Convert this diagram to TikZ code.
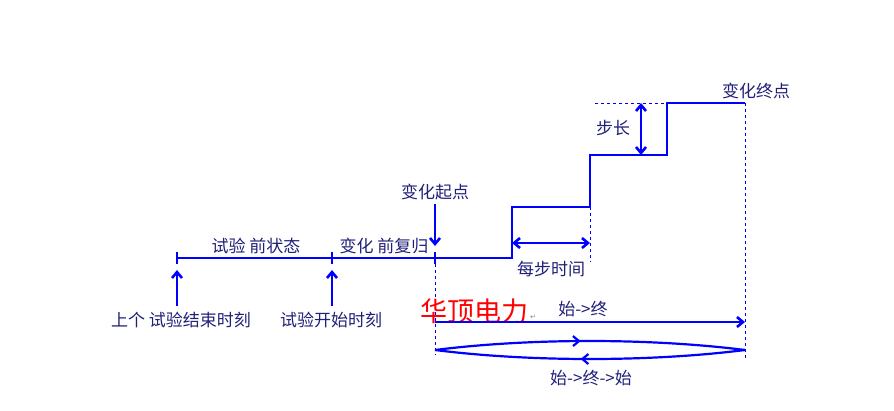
\documentclass[tikz,border=0pt]{standalone}
\usepackage{fontspec}
\setmainfont{Noto Sans CJK SC}
\newfontfamily\symfont{DejaVu Sans}
\usetikzlibrary{arrows.meta,decorations.markings}
\definecolor{ln}{RGB}{0,0,255}
\definecolor{tx}{RGB}{32,32,120}
\tikzset{
  lbl/.style={text=tx,font=\fontsize{17}{17}\selectfont,inner sep=0pt},
  thick line/.style={draw=ln,line width=2.6pt},
  dim/.style={draw=ln,line width=2.6pt,{Straight Barb[length=6pt,width=10pt]}-{Straight Barb[length=6pt,width=10pt]}},
  onearrow/.style={draw=ln,line width=2.6pt,-{Straight Barb[length=6pt,width=10pt]}},
  guide/.style={draw=ln,line width=0.8pt,dash pattern=on 3pt off 3pt},
}
\newcommand{\gap}{\hspace{4pt}}
\begin{document}
\begin{tikzpicture}[x=1pt,y=-1pt]
\useasboundingbox (0,0) rectangle (894,410);
% key coordinates
\coordinate (a) at (177,258);
\coordinate (b) at (332,258);
\coordinate (c) at (435,258);
\coordinate (s0) at (512,258);
\coordinate (s1) at (512,207);
\coordinate (s2) at (590,207);
\coordinate (s3) at (590,155);
\coordinate (s4) at (667,155);
\coordinate (s5) at (667,103);
\coordinate (e) at (745,103);
% baseline and staircase
\draw[thick line,line join=miter] (a) -- (s0) -- (s1) -- (s2) -- (s3) -- (s4) -- (s5) -- (e);
% ticks
\foreach \p in {a,b,c} \draw[draw=ln,line width=2pt] ([yshift=-6pt]\p) -- ([yshift=6pt]\p);
% guides
\coordinate (cb) at (435,355);
\coordinate (eb) at (745,360);
\coordinate (s2b) at (590,262);
\coordinate (hl) at (595,103);
\draw[guide] (c) -- (cb);
\draw[guide] (e) -- (eb);
\draw[guide] (s2) -- (s2b);
\draw[guide] (hl) -- (s5);
% step time dimension
\coordinate (d1) at (512,243);
\coordinate (d2) at (590,243);
\draw[dim] (d1) -- (d2);
\node[lbl] (mbsj) at (551,269) {每步时间};
% step size dimension
\coordinate (v1) at (641,103);
\coordinate (v2) at (641,155);
\draw[dim] (v1) -- (v2);
\node[lbl] (bc) at (613,128) {步长};
% labels
\node[lbl] (zd) at (756,91) {变化终点};
\node[lbl] (qd) at (435,192) {变化起点};
\coordinate (qa) at (435,246);
\draw[onearrow] (qd.south) ++(0,4) coordinate (qs) -- (qa);
\node[lbl] (sq) at (256,246) {试验\gap 前状态};
\node[lbl] (bh) at (384,246) {变化\gap 前复归};
\node[lbl] (sj) at (181,320) {上个\gap 试验结束时刻};
\node[lbl] (ks) at (331,320) {试验开始时刻};
\coordinate (au) at (177,270);
\coordinate (bu) at (332,270);
\draw[onearrow] (177,306) -- (au);
\draw[onearrow] (332,306) -- (bu);
% watermark
\node[text=red,font=\fontsize{27}{27}\selectfont,inner sep=0pt] (hd) at (474,311) {华顶电力};
\node[text=gray,font=\symfont\fontsize{7}{7}\selectfont,inner sep=0pt] (pm) at (533,317) {↵};
% start->end
\node[lbl] (se) at (583,309) {始->终};
\coordinate (r1) at (435,322);
\coordinate (r2) at (745,322);
\draw[onearrow] (r1) -- (r2);
% lens
\coordinate (L) at (435,350);
\coordinate (R) at (745,350);
\draw[draw=ln,line width=2.2pt,postaction={decorate},decoration={markings,mark=at position 0.47 with {\arrow[line width=2.2pt]{Straight Barb[length=6pt,width=10pt]}}}]
  (L) .. controls (530,338) and (650,338) .. (R);
\draw[draw=ln,line width=2.2pt,postaction={decorate},decoration={markings,mark=at position 0.53 with {\arrow[line width=2.2pt]{Straight Barb[length=6pt,width=10pt]}}}]
  (R) .. controls (650,362) and (530,362) .. (L);
\node[lbl] (ses) at (591,378) {始->终->始};
\end{tikzpicture}
\end{document}
